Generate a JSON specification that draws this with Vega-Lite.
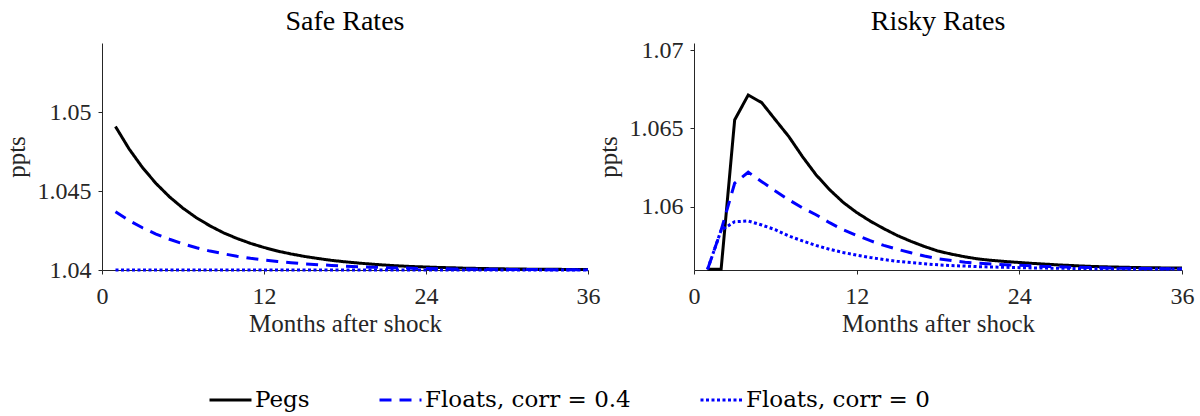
{
  "$schema": "https://vega.github.io/schema/vega-lite/v6.json",
  "background": "white",
  "padding": {"left": 4, "top": 8, "right": 5, "bottom": 0},
  "bounds": "flush",
  "spacing": 106,
  "datasets": {
    "safe": [
      {"series": "Pegs", "month": 1, "value": 1.0491}, {"series": "Pegs", "month": 2, "value": 1.04769}, {"series": "Pegs", "month": 3, "value": 1.0465}, {"series": "Pegs", "month": 4, "value": 1.04549}, {"series": "Pegs", "month": 5, "value": 1.04464}, {"series": "Pegs", "month": 6, "value": 1.04392}, {"series": "Pegs", "month": 7, "value": 1.04331}, {"series": "Pegs", "month": 8, "value": 1.0428}, {"series": "Pegs", "month": 9, "value": 1.04236}, {"series": "Pegs", "month": 10, "value": 1.042}, {"series": "Pegs", "month": 11, "value": 1.04169}, {"series": "Pegs", "month": 12, "value": 1.04143}, {"series": "Pegs", "month": 13, "value": 1.0412}, {"series": "Pegs", "month": 14, "value": 1.04102}, {"series": "Pegs", "month": 15, "value": 1.04086}, {"series": "Pegs", "month": 16, "value": 1.04073}, {"series": "Pegs", "month": 17, "value": 1.04061}, {"series": "Pegs", "month": 18, "value": 1.04052}, {"series": "Pegs", "month": 19, "value": 1.04044}, {"series": "Pegs", "month": 20, "value": 1.04037}, {"series": "Pegs", "month": 21, "value": 1.04031}, {"series": "Pegs", "month": 22, "value": 1.04026}, {"series": "Pegs", "month": 23, "value": 1.04022}, {"series": "Pegs", "month": 24, "value": 1.04019}, {"series": "Pegs", "month": 25, "value": 1.04016}, {"series": "Pegs", "month": 26, "value": 1.04014}, {"series": "Pegs", "month": 27, "value": 1.04011}, {"series": "Pegs", "month": 28, "value": 1.0401}, {"series": "Pegs", "month": 29, "value": 1.04008}, {"series": "Pegs", "month": 30, "value": 1.04007}, {"series": "Pegs", "month": 31, "value": 1.04006}, {"series": "Pegs", "month": 32, "value": 1.04005}, {"series": "Pegs", "month": 33, "value": 1.04004}, {"series": "Pegs", "month": 34, "value": 1.04004}, {"series": "Pegs", "month": 35, "value": 1.04003}, {"series": "Pegs", "month": 36, "value": 1.04003},
      {"series": "Floats, corr = 0.4", "month": 1, "value": 1.04369}, {"series": "Floats, corr = 0.4", "month": 2, "value": 1.04314}, {"series": "Floats, corr = 0.4", "month": 3, "value": 1.04268}, {"series": "Floats, corr = 0.4", "month": 4, "value": 1.04228}, {"series": "Floats, corr = 0.4", "month": 5, "value": 1.04195}, {"series": "Floats, corr = 0.4", "month": 6, "value": 1.04166}, {"series": "Floats, corr = 0.4", "month": 7, "value": 1.04141}, {"series": "Floats, corr = 0.4", "month": 8, "value": 1.0412}, {"series": "Floats, corr = 0.4", "month": 9, "value": 1.04103}, {"series": "Floats, corr = 0.4", "month": 10, "value": 1.04087}, {"series": "Floats, corr = 0.4", "month": 11, "value": 1.04074}, {"series": "Floats, corr = 0.4", "month": 12, "value": 1.04063}, {"series": "Floats, corr = 0.4", "month": 13, "value": 1.04054}, {"series": "Floats, corr = 0.4", "month": 14, "value": 1.04046}, {"series": "Floats, corr = 0.4", "month": 15, "value": 1.04039}, {"series": "Floats, corr = 0.4", "month": 16, "value": 1.04034}, {"series": "Floats, corr = 0.4", "month": 17, "value": 1.04029}, {"series": "Floats, corr = 0.4", "month": 18, "value": 1.04024}, {"series": "Floats, corr = 0.4", "month": 19, "value": 1.04021}, {"series": "Floats, corr = 0.4", "month": 20, "value": 1.04018}, {"series": "Floats, corr = 0.4", "month": 21, "value": 1.04015}, {"series": "Floats, corr = 0.4", "month": 22, "value": 1.04013}, {"series": "Floats, corr = 0.4", "month": 23, "value": 1.04011}, {"series": "Floats, corr = 0.4", "month": 24, "value": 1.04009}, {"series": "Floats, corr = 0.4", "month": 25, "value": 1.04008}, {"series": "Floats, corr = 0.4", "month": 26, "value": 1.04007}, {"series": "Floats, corr = 0.4", "month": 27, "value": 1.04006}, {"series": "Floats, corr = 0.4", "month": 28, "value": 1.04005}, {"series": "Floats, corr = 0.4", "month": 29, "value": 1.04004}, {"series": "Floats, corr = 0.4", "month": 30, "value": 1.04004}, {"series": "Floats, corr = 0.4", "month": 31, "value": 1.04003}, {"series": "Floats, corr = 0.4", "month": 32, "value": 1.04003}, {"series": "Floats, corr = 0.4", "month": 33, "value": 1.04002}, {"series": "Floats, corr = 0.4", "month": 34, "value": 1.04002}, {"series": "Floats, corr = 0.4", "month": 35, "value": 1.04002}, {"series": "Floats, corr = 0.4", "month": 36, "value": 1.04001},
      {"series": "Floats, corr = 0", "month": 1, "value": 1.04}, {"series": "Floats, corr = 0", "month": 2, "value": 1.04}, {"series": "Floats, corr = 0", "month": 3, "value": 1.04}, {"series": "Floats, corr = 0", "month": 4, "value": 1.04}, {"series": "Floats, corr = 0", "month": 5, "value": 1.04}, {"series": "Floats, corr = 0", "month": 6, "value": 1.04}, {"series": "Floats, corr = 0", "month": 7, "value": 1.04}, {"series": "Floats, corr = 0", "month": 8, "value": 1.04}, {"series": "Floats, corr = 0", "month": 9, "value": 1.04}, {"series": "Floats, corr = 0", "month": 10, "value": 1.04}, {"series": "Floats, corr = 0", "month": 11, "value": 1.04}, {"series": "Floats, corr = 0", "month": 12, "value": 1.04}, {"series": "Floats, corr = 0", "month": 13, "value": 1.04}, {"series": "Floats, corr = 0", "month": 14, "value": 1.04}, {"series": "Floats, corr = 0", "month": 15, "value": 1.04}, {"series": "Floats, corr = 0", "month": 16, "value": 1.04}, {"series": "Floats, corr = 0", "month": 17, "value": 1.04}, {"series": "Floats, corr = 0", "month": 18, "value": 1.04}, {"series": "Floats, corr = 0", "month": 19, "value": 1.04}, {"series": "Floats, corr = 0", "month": 20, "value": 1.04}, {"series": "Floats, corr = 0", "month": 21, "value": 1.04}, {"series": "Floats, corr = 0", "month": 22, "value": 1.04}, {"series": "Floats, corr = 0", "month": 23, "value": 1.04}, {"series": "Floats, corr = 0", "month": 24, "value": 1.04}, {"series": "Floats, corr = 0", "month": 25, "value": 1.04}, {"series": "Floats, corr = 0", "month": 26, "value": 1.04}, {"series": "Floats, corr = 0", "month": 27, "value": 1.04}, {"series": "Floats, corr = 0", "month": 28, "value": 1.04}, {"series": "Floats, corr = 0", "month": 29, "value": 1.04}, {"series": "Floats, corr = 0", "month": 30, "value": 1.04}, {"series": "Floats, corr = 0", "month": 31, "value": 1.04}, {"series": "Floats, corr = 0", "month": 32, "value": 1.04}, {"series": "Floats, corr = 0", "month": 33, "value": 1.04}, {"series": "Floats, corr = 0", "month": 34, "value": 1.04}, {"series": "Floats, corr = 0", "month": 35, "value": 1.04}, {"series": "Floats, corr = 0", "month": 36, "value": 1.04}
    ],
    "risky": [
      {"series": "Pegs", "month": 1, "value": 1.056}, {"series": "Pegs", "month": 2, "value": 1.056}, {"series": "Pegs", "month": 3, "value": 1.06554}, {"series": "Pegs", "month": 4, "value": 1.06713}, {"series": "Pegs", "month": 5, "value": 1.06664}, {"series": "Pegs", "month": 6, "value": 1.06555}, {"series": "Pegs", "month": 7, "value": 1.06447}, {"series": "Pegs", "month": 8, "value": 1.0632}, {"series": "Pegs", "month": 9, "value": 1.06204}, {"series": "Pegs", "month": 10, "value": 1.06109}, {"series": "Pegs", "month": 11, "value": 1.06028}, {"series": "Pegs", "month": 12, "value": 1.05963}, {"series": "Pegs", "month": 13, "value": 1.05908}, {"series": "Pegs", "month": 14, "value": 1.0586}, {"series": "Pegs", "month": 15, "value": 1.05816}, {"series": "Pegs", "month": 16, "value": 1.05779}, {"series": "Pegs", "month": 17, "value": 1.05746}, {"series": "Pegs", "month": 18, "value": 1.05717}, {"series": "Pegs", "month": 19, "value": 1.05697}, {"series": "Pegs", "month": 20, "value": 1.0568}, {"series": "Pegs", "month": 21, "value": 1.05666}, {"series": "Pegs", "month": 22, "value": 1.05657}, {"series": "Pegs", "month": 23, "value": 1.0565}, {"series": "Pegs", "month": 24, "value": 1.05644}, {"series": "Pegs", "month": 25, "value": 1.05638}, {"series": "Pegs", "month": 26, "value": 1.05633}, {"series": "Pegs", "month": 27, "value": 1.05628}, {"series": "Pegs", "month": 28, "value": 1.05624}, {"series": "Pegs", "month": 29, "value": 1.0562}, {"series": "Pegs", "month": 30, "value": 1.05617}, {"series": "Pegs", "month": 31, "value": 1.05615}, {"series": "Pegs", "month": 32, "value": 1.05613}, {"series": "Pegs", "month": 33, "value": 1.05611}, {"series": "Pegs", "month": 34, "value": 1.0561}, {"series": "Pegs", "month": 35, "value": 1.05609}, {"series": "Pegs", "month": 36, "value": 1.05608},
      {"series": "Floats, corr = 0.4", "month": 1, "value": 1.056}, {"series": "Floats, corr = 0.4", "month": 2, "value": 1.0585}, {"series": "Floats, corr = 0.4", "month": 3, "value": 1.0615}, {"series": "Floats, corr = 0.4", "month": 4, "value": 1.0622}, {"series": "Floats, corr = 0.4", "month": 5, "value": 1.0616}, {"series": "Floats, corr = 0.4", "month": 6, "value": 1.061}, {"series": "Floats, corr = 0.4", "month": 7, "value": 1.06044}, {"series": "Floats, corr = 0.4", "month": 8, "value": 1.05992}, {"series": "Floats, corr = 0.4", "month": 9, "value": 1.05949}, {"series": "Floats, corr = 0.4", "month": 10, "value": 1.05898}, {"series": "Floats, corr = 0.4", "month": 11, "value": 1.05853}, {"series": "Floats, corr = 0.4", "month": 12, "value": 1.05817}, {"series": "Floats, corr = 0.4", "month": 13, "value": 1.05783}, {"series": "Floats, corr = 0.4", "month": 14, "value": 1.05753}, {"series": "Floats, corr = 0.4", "month": 15, "value": 1.05728}, {"series": "Floats, corr = 0.4", "month": 16, "value": 1.05706}, {"series": "Floats, corr = 0.4", "month": 17, "value": 1.05685}, {"series": "Floats, corr = 0.4", "month": 18, "value": 1.05668}, {"series": "Floats, corr = 0.4", "month": 19, "value": 1.05656}, {"series": "Floats, corr = 0.4", "month": 20, "value": 1.05646}, {"series": "Floats, corr = 0.4", "month": 21, "value": 1.05639}, {"series": "Floats, corr = 0.4", "month": 22, "value": 1.05634}, {"series": "Floats, corr = 0.4", "month": 23, "value": 1.0563}, {"series": "Floats, corr = 0.4", "month": 24, "value": 1.05626}, {"series": "Floats, corr = 0.4", "month": 25, "value": 1.05622}, {"series": "Floats, corr = 0.4", "month": 26, "value": 1.05619}, {"series": "Floats, corr = 0.4", "month": 27, "value": 1.05616}, {"series": "Floats, corr = 0.4", "month": 28, "value": 1.05614}, {"series": "Floats, corr = 0.4", "month": 29, "value": 1.05612}, {"series": "Floats, corr = 0.4", "month": 30, "value": 1.0561}, {"series": "Floats, corr = 0.4", "month": 31, "value": 1.05608}, {"series": "Floats, corr = 0.4", "month": 32, "value": 1.05607}, {"series": "Floats, corr = 0.4", "month": 33, "value": 1.05606}, {"series": "Floats, corr = 0.4", "month": 34, "value": 1.05605}, {"series": "Floats, corr = 0.4", "month": 35, "value": 1.05604}, {"series": "Floats, corr = 0.4", "month": 36, "value": 1.05603},
      {"series": "Floats, corr = 0", "month": 1, "value": 1.056}, {"series": "Floats, corr = 0", "month": 2, "value": 1.0585}, {"series": "Floats, corr = 0", "month": 3, "value": 1.05904}, {"series": "Floats, corr = 0", "month": 4, "value": 1.05909}, {"series": "Floats, corr = 0", "month": 5, "value": 1.05883}, {"series": "Floats, corr = 0", "month": 6, "value": 1.05853}, {"series": "Floats, corr = 0", "month": 7, "value": 1.05813}, {"series": "Floats, corr = 0", "month": 8, "value": 1.05782}, {"series": "Floats, corr = 0", "month": 9, "value": 1.05753}, {"series": "Floats, corr = 0", "month": 10, "value": 1.05728}, {"series": "Floats, corr = 0", "month": 11, "value": 1.05708}, {"series": "Floats, corr = 0", "month": 12, "value": 1.05691}, {"series": "Floats, corr = 0", "month": 13, "value": 1.05676}, {"series": "Floats, corr = 0", "month": 14, "value": 1.05663}, {"series": "Floats, corr = 0", "month": 15, "value": 1.05651}, {"series": "Floats, corr = 0", "month": 16, "value": 1.05643}, {"series": "Floats, corr = 0", "month": 17, "value": 1.05636}, {"series": "Floats, corr = 0", "month": 18, "value": 1.05629}, {"series": "Floats, corr = 0", "month": 19, "value": 1.05624}, {"series": "Floats, corr = 0", "month": 20, "value": 1.05621}, {"series": "Floats, corr = 0", "month": 21, "value": 1.05617}, {"series": "Floats, corr = 0", "month": 22, "value": 1.05615}, {"series": "Floats, corr = 0", "month": 23, "value": 1.05613}, {"series": "Floats, corr = 0", "month": 24, "value": 1.05611}, {"series": "Floats, corr = 0", "month": 25, "value": 1.05609}, {"series": "Floats, corr = 0", "month": 26, "value": 1.05608}, {"series": "Floats, corr = 0", "month": 27, "value": 1.05607}, {"series": "Floats, corr = 0", "month": 28, "value": 1.05606}, {"series": "Floats, corr = 0", "month": 29, "value": 1.05605}, {"series": "Floats, corr = 0", "month": 30, "value": 1.05604}, {"series": "Floats, corr = 0", "month": 31, "value": 1.05604}, {"series": "Floats, corr = 0", "month": 32, "value": 1.05603}, {"series": "Floats, corr = 0", "month": 33, "value": 1.05603}, {"series": "Floats, corr = 0", "month": 34, "value": 1.05602}, {"series": "Floats, corr = 0", "month": 35, "value": 1.05602}, {"series": "Floats, corr = 0", "month": 36, "value": 1.05602}
    ]
  },
  "hconcat": [
    {
      "width": 486,
      "height": 227,
      "data": {"name": "safe"},
      "title": {"text": "Safe Rates", "offset": 7},
      "mark": {"type": "line", "strokeWidth": 3},
      "encoding": {
        "x": {"field": "month", "type": "quantitative", "title": "Months after shock",
              "scale": {"domain": [0, 36], "nice": false, "zero": false},
              "axis": {"values": [0, 12, 24, 36]}},
        "y": {"field": "value", "type": "quantitative", "title": "ppts",
              "scale": {"domain": [1.04, 1.0544], "nice": false, "zero": false},
              "axis": {"values": [1.04, 1.045, 1.05], "format": "~g"}},
        "color": {"field": "series", "type": "nominal",
                  "scale": {"domain": ["Pegs", "Floats, corr = 0.4", "Floats, corr = 0"], "range": ["#000000", "#0000ff", "#0000ff"]},
                  "legend": {"orient": "none", "direction": "horizontal", "legendX": 106, "legendY": 345, "title": null}},
        "strokeDash": {"field": "series", "type": "nominal",
                  "scale": {"domain": ["Pegs", "Floats, corr = 0.4", "Floats, corr = 0"], "range": [[1, 0], [12, 8], [3, 2.5]]},
                  "legend": {"orient": "none", "direction": "horizontal", "legendX": 106, "legendY": 345, "title": null}},
        "order": {"field": "month", "type": "quantitative"}
      }
    },
    {
      "width": 488,
      "height": 227,
      "data": {"name": "risky"},
      "title": {"text": "Risky Rates", "offset": 2},
      "mark": {"type": "line", "strokeWidth": 3},
      "encoding": {
        "x": {"field": "month", "type": "quantitative", "title": "Months after shock",
              "scale": {"domain": [0, 36], "nice": false, "zero": false},
              "axis": {"values": [0, 12, 24, 36]}},
        "y": {"field": "value", "type": "quantitative", "title": "ppts",
              "scale": {"domain": [1.05596, 1.07045], "nice": false, "zero": false},
              "axis": {"values": [1.06, 1.065, 1.07], "format": "~g"}},
        "color": {"field": "series", "type": "nominal",
                  "scale": {"domain": ["Pegs", "Floats, corr = 0.4", "Floats, corr = 0"], "range": ["#000000", "#0000ff", "#0000ff"]},
                  "legend": {"orient": "none", "direction": "horizontal", "legendX": 106, "legendY": 345, "title": null}},
        "strokeDash": {"field": "series", "type": "nominal",
                  "scale": {"domain": ["Pegs", "Floats, corr = 0.4", "Floats, corr = 0"], "range": [[1, 0], [12, 8], [3, 2.5]]},
                  "legend": {"orient": "none", "direction": "horizontal", "legendX": 106, "legendY": 345, "title": null}},
        "order": {"field": "month", "type": "quantitative"}
      }
    }
  ],
  "config": {
    "view": {"stroke": null},
    "title": {"font": "Liberation Serif", "fontSize": 28, "fontWeight": "normal", "color": "#000000", "anchor": "middle", "baseline": "alphabetic", "frame": "group"},
    "axis": {
      "grid": false,
      "domainColor": "#262626",
      "domainWidth": 1,
      "tickColor": "#262626",
      "tickSize": 4,
      "labelFont": "Liberation Serif",
      "labelFontSize": 24,
      "labelColor": "#262626",
      "titleFont": "Liberation Serif",
      "titleFontSize": 25,
      "titleFontWeight": "normal",
      "titleColor": "#262626"
    },
    "axisX": {"labelPadding": 10, "titlePadding": 3, "labelFlush": false},
    "axisY": {"labelPadding": 7, "titlePadding": 8},
    "legend": {
      "labelFont": "DejaVu Serif",
      "labelFontSize": 23,
      "labelColor": "#000000",
      "symbolType": "stroke",
      "symbolSize": 1764,
      "symbolStrokeWidth": 3,
      "labelOffset": 2,
      "columnPadding": 68,
      "clipHeight": 24,
      "labelLimit": 400
    }
  }
}
